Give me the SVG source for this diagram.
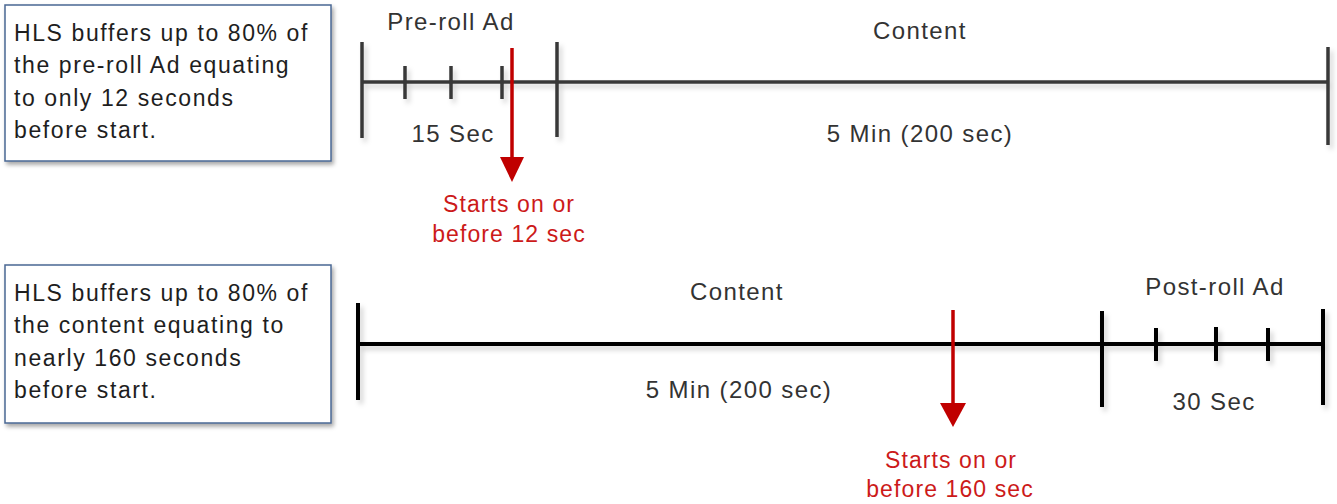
<svg xmlns="http://www.w3.org/2000/svg" width="1337" height="504" viewBox="0 0 1337 504">
<style>
.bg{fill:#ffffff}
.box{fill:#ffffff;stroke:#4a6894;stroke-width:1.5;filter:url(#sh)}
.bt{font-family:"Liberation Sans",Arial,sans-serif;font-size:23px;fill:#1e1e1e;letter-spacing:1.6px}
.lb{font-family:"Liberation Sans",Arial,sans-serif;font-size:24px;fill:#333333;letter-spacing:1.4px;text-anchor:middle}
.rt{font-family:"Liberation Sans",Arial,sans-serif;font-size:23px;fill:#cc1a1a;letter-spacing:1.1px;text-anchor:middle}
.tl1{stroke:#383838;stroke-width:3.5;fill:none;filter:url(#ls)}
.tl2{stroke:#000000;stroke-width:4;fill:none;filter:url(#ls)}
.arr{stroke:#c00000;stroke-width:3.5;fill:none}
.ah{fill:#c00000}
</style>
<defs>
<filter id="sh" x="-10%" y="-10%" width="130%" height="130%">
<feDropShadow dx="2" dy="3" stdDeviation="2" flood-color="#000" flood-opacity="0.35"/>
</filter>
<filter id="ls" x="-5%" y="-20%" width="110%" height="150%">
<feDropShadow dx="3" dy="4" stdDeviation="2.5" flood-color="#000" flood-opacity="0.18"/>
</filter>
</defs>
<rect class="bg" x="0" y="0" width="1337" height="504"/>

<g id="note-top">
<rect class="box" x="5" y="5" width="326" height="156"/>
<text class="bt" x="14" y="41">HLS buffers up to 80% of</text>
<text class="bt" x="14" y="73">the pre-roll Ad equating</text>
<text class="bt" x="14" y="105.5">to only 12 seconds</text>
<text class="bt" x="14" y="138">before start.</text>
</g>

<g id="note-bottom">
<rect class="box" x="5" y="265" width="326" height="158"/>
<text class="bt" x="14" y="301">HLS buffers up to 80% of</text>
<text class="bt" x="14" y="333">the content equating to</text>
<text class="bt" x="14" y="365.5">nearly 160 seconds</text>
<text class="bt" x="14" y="398">before start.</text>
</g>

<g id="timeline-top">
<path class="tl1" d="M362,82 H1328 M362,42 V138 M557,42 V137 M405,66 V99 M451,66 V99 M502,66 V99 M1328,47 V145"/>
</g>
<g id="timeline-top-labels">
<text class="lb" x="451" y="30">Pre-roll Ad</text>
<text class="lb" x="920" y="39">Content</text>
<text class="lb" x="453" y="142">15 Sec</text>
<text class="lb" x="920" y="142">5 Min (200 sec)</text>
</g>

<g id="timeline-bottom">
<path class="tl2" d="M358,344 H1324 M358,303 V400 M1102,311 V407 M1156,328 V361 M1216,327 V361 M1268,328 V361 M1323,309 V405"/>
</g>
<g id="timeline-bottom-labels">
<text class="lb" x="737" y="300">Content</text>
<text class="lb" x="739" y="398">5 Min (200 sec)</text>
<text class="lb" x="1215" y="295">Post-roll Ad</text>
<text class="lb" x="1214" y="410">30 Sec</text>
</g>

<g id="connectors">
<path class="arr" d="M512,48 V160"/>
<polygon class="ah" points="500,157 524,157 512,182"/>
<path class="arr" d="M953,310 V405"/>
<polygon class="ah" points="940,403 966,403 953,427"/>
</g>

<g id="start-labels">
<text class="rt" x="509" y="212">Starts on or</text>
<text class="rt" x="509" y="242">before 12 sec</text>
<text class="rt" x="951" y="468">Starts on or</text>
<text class="rt" x="950" y="497">before 160 sec</text>
</g>
</svg>
